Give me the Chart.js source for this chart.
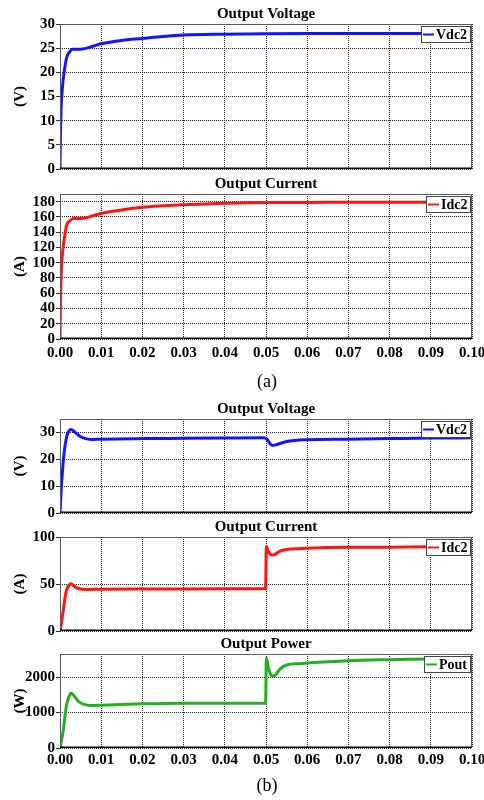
<!DOCTYPE html>
<html>
<head>
<meta charset="utf-8">
<script src="https://cdn.jsdelivr.net/npm/chart.js@4"></script>
<style>
  html, body { margin: 0; padding: 0; background: #fff; width: 484px; height: 800px; overflow: hidden; }
  body { position: relative; }
  canvas { position: absolute; left: 0; }
  .cap { position: absolute; left: 217px; width: 100px; text-align: center;
         font-family: "Liberation Serif", "Times New Roman", Tinos, "DejaVu Serif", serif;
         font-size: 18px; line-height: 22px; color: #000; }
</style>
</head>
<body>
<canvas id="va" width="500" height="178" style="top:5px"></canvas>
<canvas id="ia" width="500" height="192" style="top:175px"></canvas>
<div class="cap" style="top:370px">(a)</div>
<canvas id="vb" width="500" height="127" style="top:400px"></canvas>
<canvas id="ib" width="500" height="127" style="top:518px"></canvas>
<canvas id="pb" width="500" height="137" style="top:635px"></canvas>
<div class="cap" style="top:774px">(b)</div>
<script>
const SERIF = "'Liberation Serif', 'Times New Roman', Tinos, 'DejaVu Serif', serif";

// time axis (s)
const timeTicks = [0, 0.01, 0.02, 0.03, 0.04, 0.05, 0.06, 0.07, 0.08, 0.09, 0.1];

// (a) output voltage
const timeVa = [0, 0.0001, 0.0003, 0.0006, 0.001, 0.0016, 0.0024, 0.003, 0.004, 0.005, 0.006, 0.008,
  0.01, 0.015, 0.02, 0.025, 0.03, 0.04, 0.05, 0.06, 0.07, 0.08, 0.09, 0.1];
const vdcA = [0, 7, 13, 17, 20, 23, 24.3, 24.8, 24.8, 24.8, 24.9, 25.4,
  25.9, 26.6, 27.0, 27.4, 27.7, 27.9, 28.0, 28.05, 28.05, 28.05, 28.05, 28.05];
const voltTicksA = [0, 5, 10, 15, 20, 25, 30];

// (a) output current
const timeIa = [0, 0.0001, 0.0003, 0.0006, 0.001, 0.0016, 0.0024, 0.0032, 0.004, 0.005, 0.006, 0.008,
  0.01, 0.015, 0.02, 0.025, 0.03, 0.04, 0.05, 0.06, 0.07, 0.08, 0.09, 0.1];
const idcA = [0, 45, 85, 112, 130, 149, 155, 158, 158, 158, 158.5, 161.5,
  164.5, 169, 172.5, 174.5, 176, 178, 179, 179, 179.2, 179.2, 179.2, 179.2];
const currTicksA = [0, 20, 40, 60, 80, 100, 120, 140, 160, 180];

// (b) output voltage
const timeVb = [0, 0.0003, 0.00065, 0.001, 0.0016, 0.0022, 0.0027, 0.0036, 0.0049, 0.0065, 0.008, 0.01,
  0.02, 0.03, 0.04, 0.0495, 0.0502, 0.051, 0.0516, 0.0526, 0.055, 0.058, 0.06, 0.07, 0.08, 0.09, 0.1];
const vdcB = [0, 9, 16.5, 22.5, 28.3, 30.6, 31.1, 30.1, 28.5, 27.6, 27.4, 27.5,
  27.7, 27.8, 27.9, 28.0, 27.5, 25.8, 25.1, 25.5, 26.6, 27.2, 27.3, 27.5, 27.7, 27.9, 28.0];
const voltTicksB = [0, 10, 20, 30];

// (b) output current
const timeIb = [0, 0.0004, 0.0008, 0.0012, 0.0016, 0.0022, 0.0027, 0.0034, 0.0045, 0.0065, 0.01, 0.02,
  0.03, 0.04, 0.0499, 0.0501, 0.0506, 0.0514, 0.0522, 0.0534, 0.0558, 0.06, 0.07, 0.08, 0.09, 0.1];
const idcB = [0, 9.6, 22, 34.5, 43.4, 48.8, 50.2, 48, 45.2, 44.1, 44.5, 44.6,
  44.8, 44.9, 45.2, 90, 84.3, 80.8, 81.5, 85, 87.2, 88, 89, 89.2, 89.5, 89.5];
const currTicksB = [0, 50, 100];

// (b) output power
const timePb = [0, 0.0008, 0.0012, 0.0016, 0.0022, 0.0027, 0.0034, 0.0045, 0.0057, 0.0073, 0.01, 0.02,
  0.03, 0.04, 0.0499, 0.0501, 0.0506, 0.0514, 0.052, 0.0534, 0.055, 0.058, 0.06, 0.07, 0.08, 0.09, 0.1];
const poutB = [0, 509, 887, 1217, 1453, 1547, 1472, 1311, 1236, 1198, 1208, 1245,
  1264, 1265, 1264, 2528, 2255, 2038, 2038, 2226, 2340, 2377, 2396, 2462, 2490, 2509, 2509];
const powTicksB = [0, 1000, 2000];

Chart.defaults.font.family = SERIF;
Chart.defaults.font.weight = "bold";
Chart.defaults.font.size = 15;
Chart.defaults.color = "#000";

// frame, title and boxed legend as in the simulator plot
const panelPlugin = {
  id: "panel",
  afterDraw(chart, args, opts) {
    const { ctx, chartArea: a } = chart;
    ctx.save();
    ctx.strokeStyle = "#5a5a5a";
    ctx.lineWidth = 1;
    ctx.strokeRect(a.left + 0.5, a.top + 0.5, a.width - 1, a.height - 1);
    ctx.strokeStyle = "#000";
    ctx.lineWidth = 1.5;
    ctx.beginPath();
    ctx.moveTo(a.left, a.bottom - 0.75);
    ctx.lineTo(a.right, a.bottom - 0.75);
    ctx.stroke();

    ctx.fillStyle = "#000";
    ctx.font = "bold 15px " + SERIF;
    ctx.textAlign = "center";
    ctx.textBaseline = "middle";
    ctx.fillText(opts.title, (a.left + a.right) / 2, a.top - 10);

    const ds = chart.data.datasets[0];
    ctx.font = "bold 14px " + SERIF;
    const tw = ctx.measureText(ds.label).width;
    const w = Math.round(tw + 18), h = 16;
    const x = Math.round(a.right - 2 - w), y = Math.round(a.top + 2);
    ctx.fillStyle = "#fff";
    ctx.fillRect(x, y, w, h);
    ctx.strokeStyle = "#444";
    ctx.lineWidth = 1;
    ctx.strokeRect(x + 0.5, y + 0.5, w, h);
    ctx.strokeStyle = ds.borderColor;
    ctx.lineWidth = 2;
    ctx.beginPath();
    ctx.moveTo(x + 2, y + h / 2 + 0.5);
    ctx.lineTo(x + 13, y + h / 2 + 0.5);
    ctx.stroke();
    ctx.fillStyle = "#000";
    ctx.textAlign = "left";
    ctx.fillText(ds.label, x + 15, y + h / 2 + 1);
    ctx.restore();
  },
};

const makePanel = (id, { title, label, unit, color, times, values, yMax, yTicks, showTime, timePad, bottom }) => {
  const config = {
    type: "line",
    data: {
      datasets: [
        {
          label,
          data: times.map((t, i) => ({ x: t, y: values[i] })),
          borderColor: color,
          borderWidth: 3,
          pointRadius: 0,
          cubicInterpolationMode: "monotone",
        },
      ],
    },
    options: {
      responsive: false,
      animation: false,
      layout: { padding: { top: 19, right: 28, bottom, left: 0 } },
      plugins: { legend: { display: false }, tooltip: { enabled: false }, panel: { title } },
      scales: {
        x: {
          type: "linear",
          min: 0,
          max: 0.1,
          afterBuildTicks: (scale) => {
            scale.ticks = timeTicks.map((value) => ({ value }));
          },
          grid: { color: "#222", lineWidth: 1, drawTicks: false },
          border: { display: false, dash: [1, 1] },
          ticks: {
            display: showTime,
            padding: timePad,
            autoSkip: false,
            maxRotation: 0,
            callback: (v) => v.toFixed(2),
          },
        },
        y: {
          min: 0,
          max: yMax,
          afterBuildTicks: (scale) => {
            scale.ticks = yTicks.map((value) => ({ value }));
          },
          afterFit: (scale) => {
            scale.width = 60;
          },
          grid: { color: "#222", lineWidth: 1, drawTicks: true, tickLength: 4, tickColor: "#333" },
          border: { display: false, dash: [1, 1] },
          ticks: { padding: 1, autoSkip: false, callback: (v) => String(v) },
          title: { display: true, text: unit, padding: { top: 11, bottom: 0 } },
        },
      },
    },
    plugins: [panelPlugin],
  };
  return new Chart(document.getElementById(id), config);
};

makePanel("va", { title: "Output Voltage", label: "Vdc2", unit: "(V)", color: "#1414ff",
  times: timeVa, values: vdcA, yMax: 30, yTicks: voltTicksA, showTime: false, timePad: 0, bottom: 14 });
makePanel("ia", { title: "Output Current", label: "Idc2", unit: "(A)", color: "#ff1414",
  times: timeIa, values: idcA, yMax: 190, yTicks: currTicksA, showTime: true, timePad: 5, bottom: 0 });
makePanel("vb", { title: "Output Voltage", label: "Vdc2", unit: "(V)", color: "#1414ff",
  times: timeVb, values: vdcB, yMax: 35, yTicks: voltTicksB, showTime: false, timePad: 0, bottom: 14 });
makePanel("ib", { title: "Output Current", label: "Idc2", unit: "(A)", color: "#ff1414",
  times: timeIb, values: idcB, yMax: 100, yTicks: currTicksB, showTime: false, timePad: 0, bottom: 14 });
makePanel("pb", { title: "Output Power", label: "Pout", unit: "(W)", color: "#22b022",
  times: timePb, values: poutB, yMax: 2650, yTicks: powTicksB, showTime: true, timePad: 3, bottom: 0 });
</script>
</body>
</html>
